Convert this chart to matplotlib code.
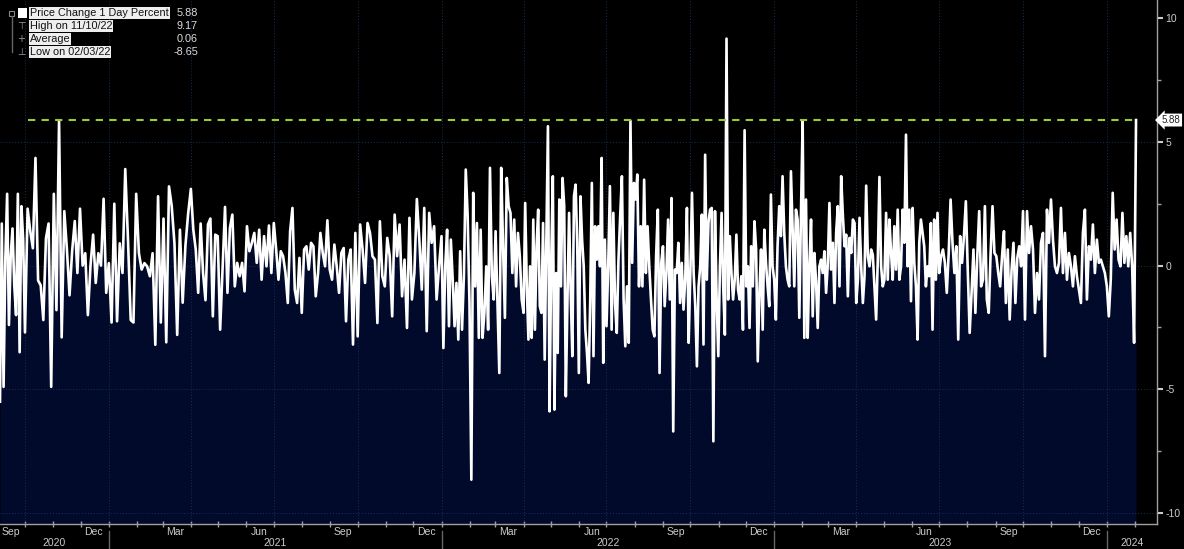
import pandas as pd
import matplotlib
matplotlib.use('Agg')
import matplotlib.pyplot as plt
import matplotlib.dates as mdates
from matplotlib.lines import Line2D
from matplotlib.patches import Rectangle
from matplotlib.ticker import MultipleLocator
from matplotlib.transforms import blended_transform_factory

plt.rcParams['font.family'] = ['Liberation Sans', 'DejaVu Sans']
plt.rcParams['axes.unicode_minus'] = False

# 1-day price change (%)
q2020_3 = [-5.5, 1.7, -4.9, 0.3, 2.9, -2.4, 0.4, 1.5, -0.8, -2.0, 2.9, -3.5, 2.4, 1.0]
q2020_4 = [-2.7, 2.3, 1.4, 0.7, 4.35, -0.6, -0.8, -2.2, 1.1, 1.7, -4.9, 2.9, -1.8, 5.86, -2.9, 2.2,
           0.65, -1.2, 0.6, 1.8, -0.3, 2.3, 0.0, 0.5, -2.0, 0.0, 1.25, -0.7, 0.5, 0.0, 2.7, -1.1]
q2021_1 = [0.1, -2.3, 2.5, -2.25, 0.9, -0.3, 3.9, 1.05, -2.2, -2.3, 2.9, 0.5, -0.16, 0.1, -0.03,
           -0.43, 0.5, -3.2, 2.8, -2.3, 1.9, -3.1, 3.2, 2.4, 0.9, -2.8, 1.45, -1.5, 0.8, 2.1]
q2021_2 = [3.1, 1.45, 0.65, -1.1, 1.7, -0.3, -1.4, 1.66, 1.9, -2.05, 1.25, 1.19, -2.59, -0.16, 2.37,
           -1.10, 1.52, 2.06, -0.84, 0.11, -0.43, 0.11, -1.04, 1.59, 0.58, 0.92, 1.32, 0.11, 1.45,
           -0.57, 1.19, -0.03, 1.62, -0.30]
q2021_3 = [1.72, 0.65, -0.57, 0.58, 0.38, -0.30, -1.51, 1.39, 2.33, -0.97, -1.51, 0.31, -1.91, 0.65,
           0.78, -0.16, 0.92, 0.78, -1.24, -0.30, 1.32, 0.51, -0.03, 1.83, -0.16, -0.57, 0.85, -0.03,
           -1.10, 0.51, 0.71, -2.25, 0.24, 0.65, -3.19, 1.32]
q2021_4 = [-2.86, 1.66, 0.65, -0.70, 1.72, 1.32, 0.38, 0.24, -2.32, 1.79, -0.43, -0.84, 1.12, 0.38,
           -2.05, 2.06, 0.38, 1.66, -1.24, 0.24, -2.52, 1.93, -1.37, -0.30, 2.69, 1.05, -0.97, 2.33,
           -2.65, 2.13, 0.92, 1.59, -1.37, -0.03]
q2022_1 = [1.19, -3.33, -0.03, 1.45, -2.45, 1.05, -0.57, -2.45, -0.70, -2.99, 0.58, -2.59, -0.43,
           3.88, 2.06, -1.51, -8.65, 2.94, -0.84, 1.72, -2.92, 1.45, -2.92, -1.91, -0.03, -2.59, 3.95,
           -0.43, -1.37, 1.39, -1.51, -4.34, 3.95, 0.78, -2.11, 3.54, 2.40, 2.13, -0.30, 1.86, -0.84,
           1.32, 0.38, -1.37]
q2022_2 = [-1.91, 2.53, -0.84, -2.99, -0.03, -2.92, 1.86, -2.59, 0.78, 2.26, -1.64, -1.91, 1.72,
           -3.80, 0.78, 5.63, -5.89, 0.11, 3.61, -5.82, -0.30, -3.53, 2.67, -0.84, 3.54, 2.40, -5.28,
           -1.37, 2.13, -1.10, -3.66, 2.80, 3.27, 0.92, -4.34, 2.80, 1.05, -0.03, -2.59, -3.53, -4.74,
           -1.37, 3.34, -3.66, 1.59, 0.24, 1.59, -0.03, 4.35, -3.93, 1.05]
q2022_3 = [-2.45, -0.03, 3.21, -2.59, 2.13, -1.51, -2.72, 0.24, 1.99, 3.61, -1.37, -3.26, -0.84,
           -3.12, 5.85, 0.11, 3.34, 2.67, 3.68, -0.84, 1.59, -0.84, 3.47, -0.30, 1.59, -0.03, -1.37,
           -2.59, -2.86, 0.38, 2.26, -4.34, 0.11, 0.78, -1.64, -0.30, 1.86, -1.37, 2.73, -6.7, -0.16,
           -0.30, 0.92, -1.51, 0.11, -1.78, -0.57, 2.33, -3.12]
q2022_4 = [-0.30, 2.94, -0.30, -1.64, -4.07, -0.84, -0.03, 2.06, -3.19, 4.48, -0.57, 1.72, 2.26,
           2.33, -7.1, 2.20, -1.37, -3.66, -0.03, 2.13, -0.84, -2.79, 9.17, -1.37, 1.19, -0.30, -1.37,
           -0.57, 1.25, -0.97, -1.37, -0.43, -2.59, 5.47, -0.84, -0.03, -2.52, 0.78, -0.84, 1.79,
           0.65, -3.87, -1.10, 0.65, -2.59, 1.45, 0.11, -0.84, -1.64, 2.87, -0.03]
q2023_1 = [-0.57, -2.18, 0.78, 2.40, 1.19, 3.61, 1.32, -0.03, -0.57, -0.84, 3.81, 1.45, -0.84, 2.26,
           1.86, -2.11, 2.13, 5.85, -2.92, 2.67, -2.92, -0.03, 1.86, -2.05, 0.51, -0.63, -2.52, -0.03,
           0.24, -0.30, 0.58, -1.10, 0.04, 2.53, -0.16, 0.92, -1.51, 1.32, 2.40, -0.84, 3.61, 2.06,
           0.78, 1.25, -1.24, 1.12, 0.51, 1.86, 1.72]
q2023_2 = [-1.51, -0.57, 1.93, -0.03, -1.51, -0.43, 3.23, 0.38, -0.03, 0.65, 0.44, -0.84, -2.18,
           0.24, 3.58, -0.03, -0.84, -0.57, 2.13, -0.57, 1.86, 0.51, -0.57, 1.59, -0.16, 2.26, -0.57,
           -0.03, 2.26, 0.92, 5.29, -0.03, 2.26, -1.44, 2.33, 0.11, -0.84, -2.99, 0.92, 1.86, 1.32,
           0.78, -0.84, -0.03, -0.43, 1.72, -2.59, 1.86, -0.57, 2.13]
q2023_3 = [-0.30, 0.38, 0.65, 0.11, -1.10, 0.51, 2.67, 0.92, -0.30, 0.78, -2.99, 1.19, 0.11, 1.19,
           2.60, -0.16, -2.72, -1.10, 0.65, -1.91, 0.38, 2.20, -0.84, -0.57, 2.40, -1.37, -1.91, 0.51,
           2.40, 0.51, 0.38, -0.30, -0.84, 0.38, 1.39, -1.51, 0.65, -2.18, -0.16, 0.92, -1.51, 0.31,
           0.78, -0.03]
q2023_4 = [2.20, -2.18, 2.20, 0.51, 1.59, 0.65, -1.91, -0.30, -1.37, 0.92, 1.32, -3.66, 2.26, 0.92,
           2.67, 1.05, -0.03, -0.30, 0.11, 2.33, -0.30, 1.32, -0.57, 0.51, -0.03, -0.84, 0.38, -0.43,
           -0.97, -1.51, 1.32, 2.26, -1.37, 0.78, 0.24, 1.66, -0.30, 1.05, 0.11, 0.24, -0.03, -0.30]
q2024_1 = [-0.84, -2.05, -0.57, 2.94, 0.65, 1.86, 0.24, -0.03, 2.13, 0.11, 1.19, -0.03, 1.32, -0.03,
           -3.12, 5.88]

series = [q2020_3, q2020_4, q2021_1, q2021_2, q2021_3, q2021_4, q2022_1, q2022_2, q2022_3,
          q2022_4, q2023_1, q2023_2, q2023_3, q2023_4, q2024_1]
quarter_starts = ['2020-09-03 14:00', '2020-10-01', '2021-01-01', '2021-04-01', '2021-07-01',
                  '2021-10-01', '2022-01-01', '2022-04-01', '2022-07-01', '2022-10-01',
                  '2023-01-01', '2023-04-01', '2023-07-01', '2023-10-01', '2024-01-01']
last_day = '2024-02-02'
x_end = '2024-02-25'

last_value = 5.88
legend_labels = ['Price Change 1 Day Percent', 'High on 11/10/22', 'Average', 'Low on 02/03/22']
legend_values = ['5.88', '9.17', '0.06', '-8.65']

# build dates: each quarter's readings spread evenly across that quarter
dates, pct = [], []
for i, q in enumerate(series):
    start = pd.Timestamp(quarter_starts[i])
    if i + 1 < len(series):
        d = pd.date_range(start, pd.Timestamp(quarter_starts[i + 1]), periods=len(q) + 1)[:-1]
    else:
        d = pd.date_range(start, pd.Timestamp(last_day), periods=len(q))
    dates.extend(d)
    pct.extend(q)

W, H = 1184, 549
fig = plt.figure(figsize=(W / 100, H / 100), dpi=100, facecolor='black')
ax = fig.add_axes([0, (H - 524) / H, 1157 / W, 524 / H], facecolor='black')

ymin, ymax = -10.44, 10.73
ax.set_ylim(ymin, ymax)
ax.set_xlim(pd.Timestamp(quarter_starts[0]), pd.Timestamp(x_end))

ax.fill_between(dates, pct, ymin, color='#020a2c', lw=0, zorder=1)
ax.plot(dates, pct, color='white', lw=1.9, zorder=4)

# dotted grid
grid_kw = dict(color='#143152', lw=0.7, ls=(0, (1, 2)), zorder=2)
for d in pd.date_range('2020-10-01', '2024-01-01', freq='QS'):
    ax.axvline(d, **grid_kw)
for y in (-10, -5, 0, 5):
    ax.axhline(y, **grid_kw)

# last value line
ax.hlines(last_value, pd.Timestamp('2020-10-04'), pd.Timestamp(last_day),
          colors='#9acd32', linestyles=(0, (3.5, 3)), lw=1.5, zorder=5)

for s in ('top', 'left'):
    ax.spines[s].set_visible(False)
for s in ('right', 'bottom'):
    ax.spines[s].set_color('#a0a0a0')
    ax.spines[s].set_linewidth(1)

# x axis: month ticks, quarter month names, years below
ax.xaxis.set_minor_locator(mdates.MonthLocator())
ax.xaxis.set_major_locator(mdates.MonthLocator(bymonth=[3, 6, 9, 12], bymonthday=15))
ax.xaxis.set_major_formatter(mdates.DateFormatter('%b'))
ax.tick_params(axis='x', which='major', length=0, pad=2, labelsize=7.5, labelcolor='#cccccc')
ax.tick_params(axis='x', which='minor', length=4, direction='inout', color='#a0a0a0', width=1)

tr = blended_transform_factory(ax.transData, ax.transAxes)
x0, x1 = ax.get_xlim()
for yr in range(2020, 2025):
    a = max(mdates.date2num(pd.Timestamp(f'{yr}-01-01')), x0)
    b = min(mdates.date2num(pd.Timestamp(f'{yr + 1}-01-01')), x1)
    ax.text((a + b) / 2, -0.036, str(yr), transform=tr, ha='center', va='center',
            fontsize=7.5, color='#cccccc', clip_on=False)
    if yr > 2020:
        ax.plot([a, a], [-0.013, -0.05], transform=tr, color='#666666', lw=1, clip_on=False)

# y axis on the right
ax.yaxis.tick_right()
ax.set_yticks([-10, -5, 0, 5, 10])
ax.set_yticklabels(['-10', '-5', '0', '5', '10'])
ax.yaxis.set_minor_locator(MultipleLocator(2.5))
ax.tick_params(axis='y', which='major', length=4, width=1.5, color='#cccccc', pad=2,
               labelsize=7.5, labelcolor='#cccccc')
ax.tick_params(axis='y', which='minor', length=3, width=1, color='#a0a0a0')

ax.annotate(f'{last_value:.2f}', xy=(1.0, last_value), xycoords=('axes fraction', 'data'),
            xytext=(3.5, 0), textcoords='offset points', ha='left', va='center', fontsize=7,
            color='#222222', annotation_clip=False,
            bbox=dict(boxstyle='larrow,pad=0.15', fc='white', ec='none'))

# legend block, top left
def fx(px):
    return px / W

def fy(py):
    return 1 - py / H

for i, (lab, val) in enumerate(zip(legend_labels, legend_values)):
    y = 13 + i * 13
    fig.text(fx(30), fy(y), lab, ha='left', va='center', fontsize=7.8, color='#111111',
             bbox=dict(boxstyle='square,pad=0.08', fc='#eeeeee', ec='none'))
    fig.text(fx(198), fy(y), val, ha='right', va='center', fontsize=7.8, color='#dddddd')

fig.add_artist(Line2D([fx(11.5), fx(11.5)], [fy(16), fy(52)], transform=fig.transFigure,
                      color='#666666', lw=1))
fig.add_artist(Rectangle((fx(9), fy(16)), 5 / W, 5 / H, transform=fig.transFigure,
                         fc='none', ec='#888888', lw=0.8))
fig.add_artist(Rectangle((fx(18), fy(18)), 9 / W, 10 / H, transform=fig.transFigure,
                         fc='white', ec='none'))
for i, g in enumerate(['\u22a4', '+', '\u22a5']):
    fig.text(fx(21), fy(26 + i * 13), g, ha='center', va='center', fontsize=7,
             color='#9a9a9a', family='DejaVu Sans')

fig.savefig('out.png', dpi=100, facecolor='black')
